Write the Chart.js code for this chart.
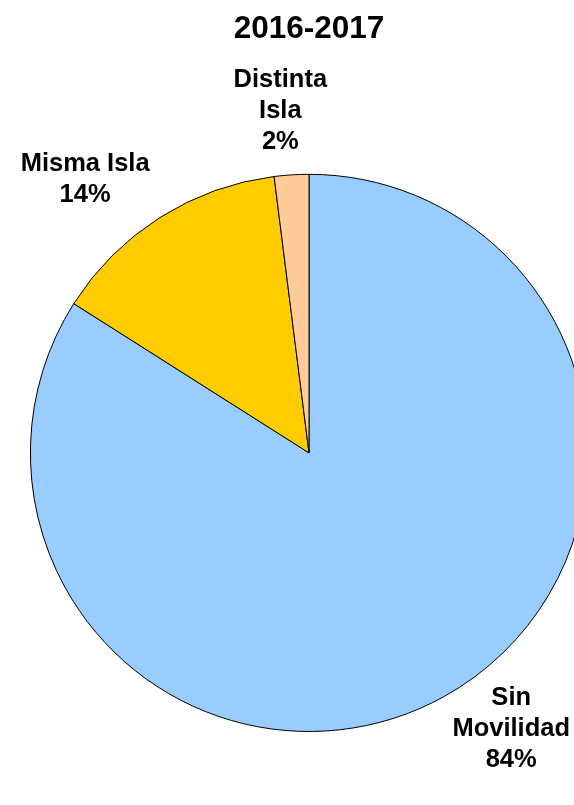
<!DOCTYPE html>
<html>
<head>
<meta charset="utf-8">
<title>2016-2017</title>
<script src="https://cdn.jsdelivr.net/npm/chart.js@4"></script>
<style>
  html, body { margin: 0; padding: 0; background: #fff; overflow: hidden; }
  #wrap { width: 574px; height: 805px; overflow: hidden; }
</style>
</head>
<body>
<div id="wrap">
  <canvas id="myChart" width="618" height="805"></canvas>
</div>
<script>
// categories (multi-line as shown on the slice labels)
const categories = [['Sin', 'Movilidad'], ['Misma Isla'], ['Distinta', 'Isla']];
// percentage of students per category
const values = [84, 14, 2];
const colors = ['#99CCFF', '#FFCC00', '#FFCC99'];

// where each label sits: distance from the centre along the slice's mid angle, plus a small nudge
const labelDist = 345;
const labelNudge = [[36, -26], [-39, 18], [-7, 2]];

const fontFamily = '"Liberation Sans", Arial, sans-serif';

// draws the "Name NN%" labels outside each slice
const sliceLabels = {
    id: 'sliceLabels',
    afterDatasetsDraw(chart) {
        const ctx = chart.ctx;
        const meta = chart.getDatasetMeta(0);
        const total = values.reduce((a, b) => a + b, 0);
        ctx.save();
        ctx.font = 'bold 25.5px ' + fontFamily;
        ctx.fillStyle = '#000';
        ctx.textAlign = 'center';
        ctx.textBaseline = 'middle';
        meta.data.forEach((arc, i) => {
            const p = arc.getProps(['x', 'y', 'startAngle', 'endAngle'], true);
            const mid = (p.startAngle + p.endAngle) / 2;
            const cx = p.x + Math.cos(mid) * labelDist + labelNudge[i][0];
            const cy = p.y + Math.sin(mid) * labelDist + labelNudge[i][1];
            const lines = categories[i].concat([Math.round(values[i] / total * 100) + '%']);
            const lh = 31;
            lines.forEach((t, j) => {
                ctx.fillText(t, cx, cy + (j - (lines.length - 1) / 2) * lh);
            });
        });
        ctx.restore();
    }
};

let ctx = document.getElementById('myChart').getContext('2d');
let chart = new Chart(ctx, {
    type: 'pie',
    data: {
        labels: categories,
        datasets: [{
            data: values,
            backgroundColor: colors,
            borderColor: '#000',
            borderWidth: 1
        }]
    },
    options: {
        responsive: false,
        animation: false,
        layout: { padding: { bottom: 73 } },
        plugins: {
            legend: { display: false },
            tooltip: { enabled: false },
            title: {
                display: true,
                text: '2016-2017',
                color: '#000',
                font: { family: fontFamily, size: 31.5, weight: 'bold', lineHeight: 1.2 },
                padding: { top: 10, bottom: 126 }
            }
        }
    },
    plugins: [sliceLabels]
});
</script>
</body>
</html>
